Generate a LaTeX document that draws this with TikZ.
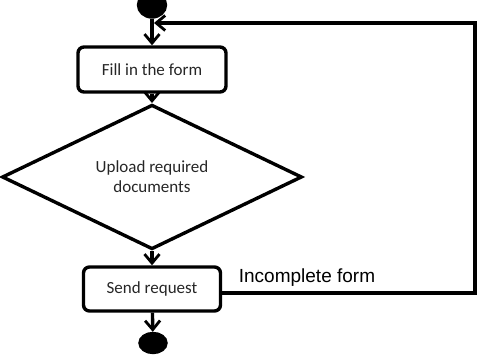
\documentclass[tikz,border=0pt]{standalone}
\usepackage{fontspec}
\setmainfont{Carlito}
\newfontfamily\labelfont{Liberation Sans}
\usetikzlibrary{shapes.geometric,arrows.meta}
\definecolor{inktext}{HTML}{262626}
\begin{document}
\begin{tikzpicture}[x=1pt,y=1pt,
  line width=3.4pt,
  flow/.style={-{Straight Barb[length=9pt,width=15pt,line width=2.8pt]}},
  actbox/.style={draw, rounded corners=6pt, minimum height=45pt,
    font=\fontsize{17}{20}\selectfont, text=inktext},
  decision/.style={draw, diamond, inner sep=0pt, minimum width=300pt,
    minimum height=110pt, align=center,
    font=\fontsize{17}{20}\selectfont, text=inktext},
  terminal/.style={draw, fill=black, ellipse, inner sep=0pt}]
\useasboundingbox (0,0) rectangle (478,356);

\node[terminal, minimum width=27pt, minimum height=24pt] (start) at (152,351) {};
\node[actbox, minimum width=148pt] (fill) at (152,286.5) {Fill in the form};
\node[decision] (upload) at (152,179) {Upload required\\documents};
\node[actbox, minimum width=137pt, minimum height=44pt] (send) at (152,67) {Send request};
\node[terminal, minimum width=26pt, minimum height=19pt] (end) at (153,13) {};

\coordinate (merge) at (154,333);
\coordinate (out) at ([yshift=-4pt]send.east);
\coordinate (c1) at (475,63);
\coordinate (c2) at (475,333);

\draw[flow] (start) -- (fill);
\draw[flow] (fill) -- (upload);
\draw[flow] (upload) -- (send);
\draw[flow] (send) -- (end);
\draw[flow, line join=miter] (out) -- (c1) -- (c2) -- (merge);

\node[font=\labelfont\fontsize{19}{21}\selectfont, inner sep=0pt] (lbl) at (307,78) {Incomplete form};
\end{tikzpicture}
\end{document}
